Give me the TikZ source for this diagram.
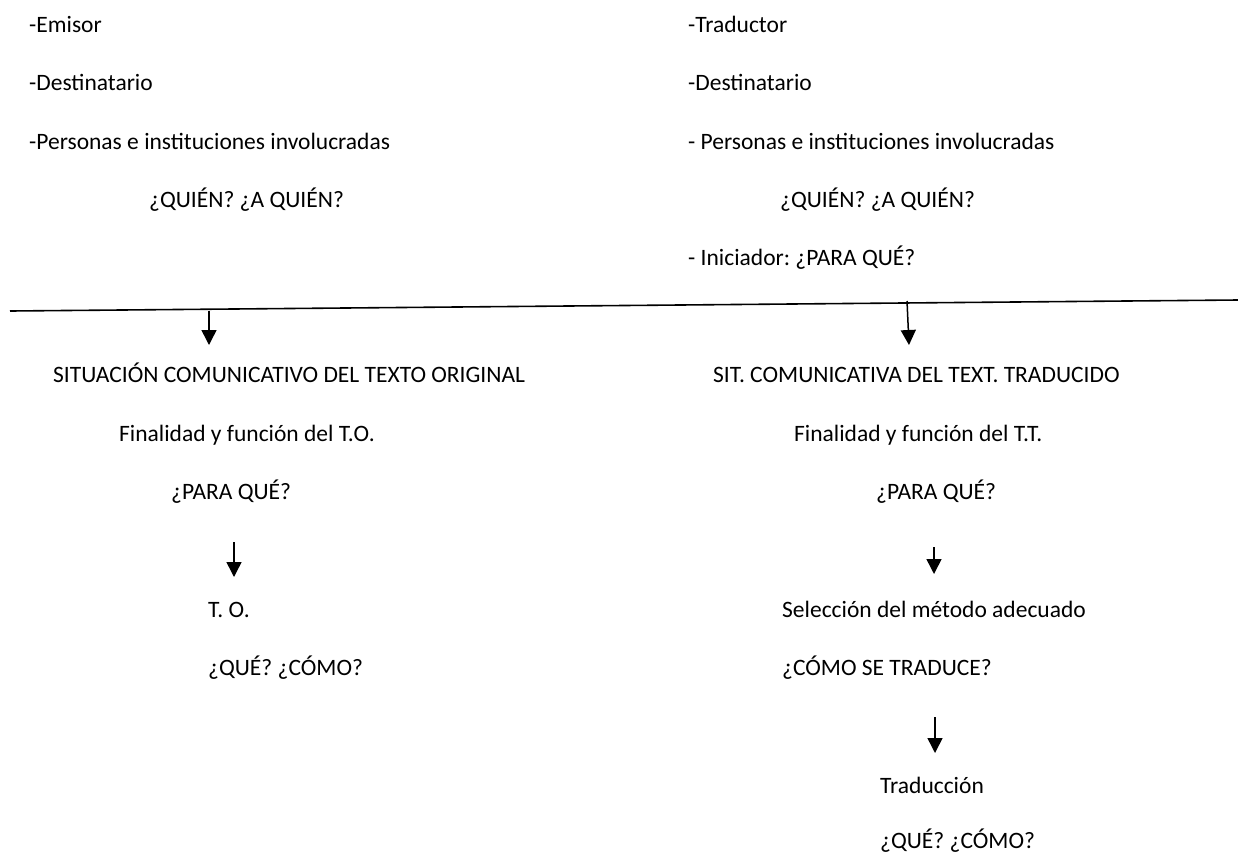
\documentclass[tikz,border=0pt]{standalone}
\usepackage{fontspec}
\setmainfont{Carlito}
\usetikzlibrary{arrows.meta}
\frenchspacing
\begin{document}
\begin{tikzpicture}[x=1pt,y=-1pt,
  txt/.style={anchor=base west,inner sep=0pt,font=\fontsize{23.5}{26}\selectfont},
  arr/.style={line width=1.5pt,-{Triangle[width=15pt,length=15pt]}}]
\useasboundingbox (0,0) rectangle (1238,854);
% left top
\node[txt] (emisor) at (29,32) {-Emisor};
\node[txt] (dest1) at (29,90) {-Destinatario};
\node[txt] (pers1) at (29,149) {-Personas e instituciones involucradas};
\node[txt] (quien1) at (149,207) {¿QUIÉN? ¿A QUIÉN?};
% right top
\node[txt] (trad) at (688,32) {-Traductor};
\node[txt] (dest2) at (688,90) {-Destinatario};
\node[txt] (pers2) at (688,149) {- Personas e instituciones involucradas};
\node[txt] (quien2) at (780,207) {¿QUIÉN? ¿A QUIÉN?};
\node[txt] (inic) at (688,265) {- Iniciador: ¿PARA QUÉ?};
% line
\coordinate (la) at (10,311);
\coordinate (lb) at (1238,300);
\draw[line width=1.6pt] (la) -- (lb);
\coordinate (a1s) at (209,310.5);
\coordinate (a2s) at (907,301);
% left column
\node[txt] (sit1) at (53,382) {SITUACIÓN COMUNICATIVO DEL TEXTO ORIGINAL};
\node[txt] (fin1) at (119,441) {Finalidad y función del T.O.};
\node[txt] (para1) at (171,499) {¿PARA QUÉ?};
\node[txt] (to) at (208,617) {T. O.};
\node[txt] (que1) at (208,675) {¿QUÉ? ¿CÓMO?};
% right column
\node[txt] (sit2) at (713,382) {SIT. COMUNICATIVA DEL TEXT. TRADUCIDO};
\node[txt] (fin2) at (794,441) {Finalidad y función del T.T.};
\node[txt] (para2) at (876,499) {¿PARA QUÉ?};
\node[txt] (sel) at (782,617) {Selección del método adecuado};
\node[txt] (como) at (782,675) {¿CÓMO SE TRADUCE?};
\node[txt] (trd) at (880,793) {Traducción};
\node[txt] (que2) at (880,848) {¿QUÉ? ¿CÓMO?};
% arrows
\coordinate (a1e) at (209,345);
\coordinate (a2e) at (909,345);
\draw[arr] (a1s) -- (a1e);
\draw[arr] (a2s) -- (a2e);
\coordinate (a3s) at (234,542);
\coordinate (a3e) at (234,577);
\draw[arr] (a3s) -- (a3e);
\coordinate (a4s) at (934,547);
\coordinate (a4e) at (934,574);
\draw[arr] (a4s) -- (a4e);
\coordinate (a5s) at (935,717);
\coordinate (a5e) at (935,753);
\draw[arr] (a5s) -- (a5e);
\end{tikzpicture}
\end{document}
